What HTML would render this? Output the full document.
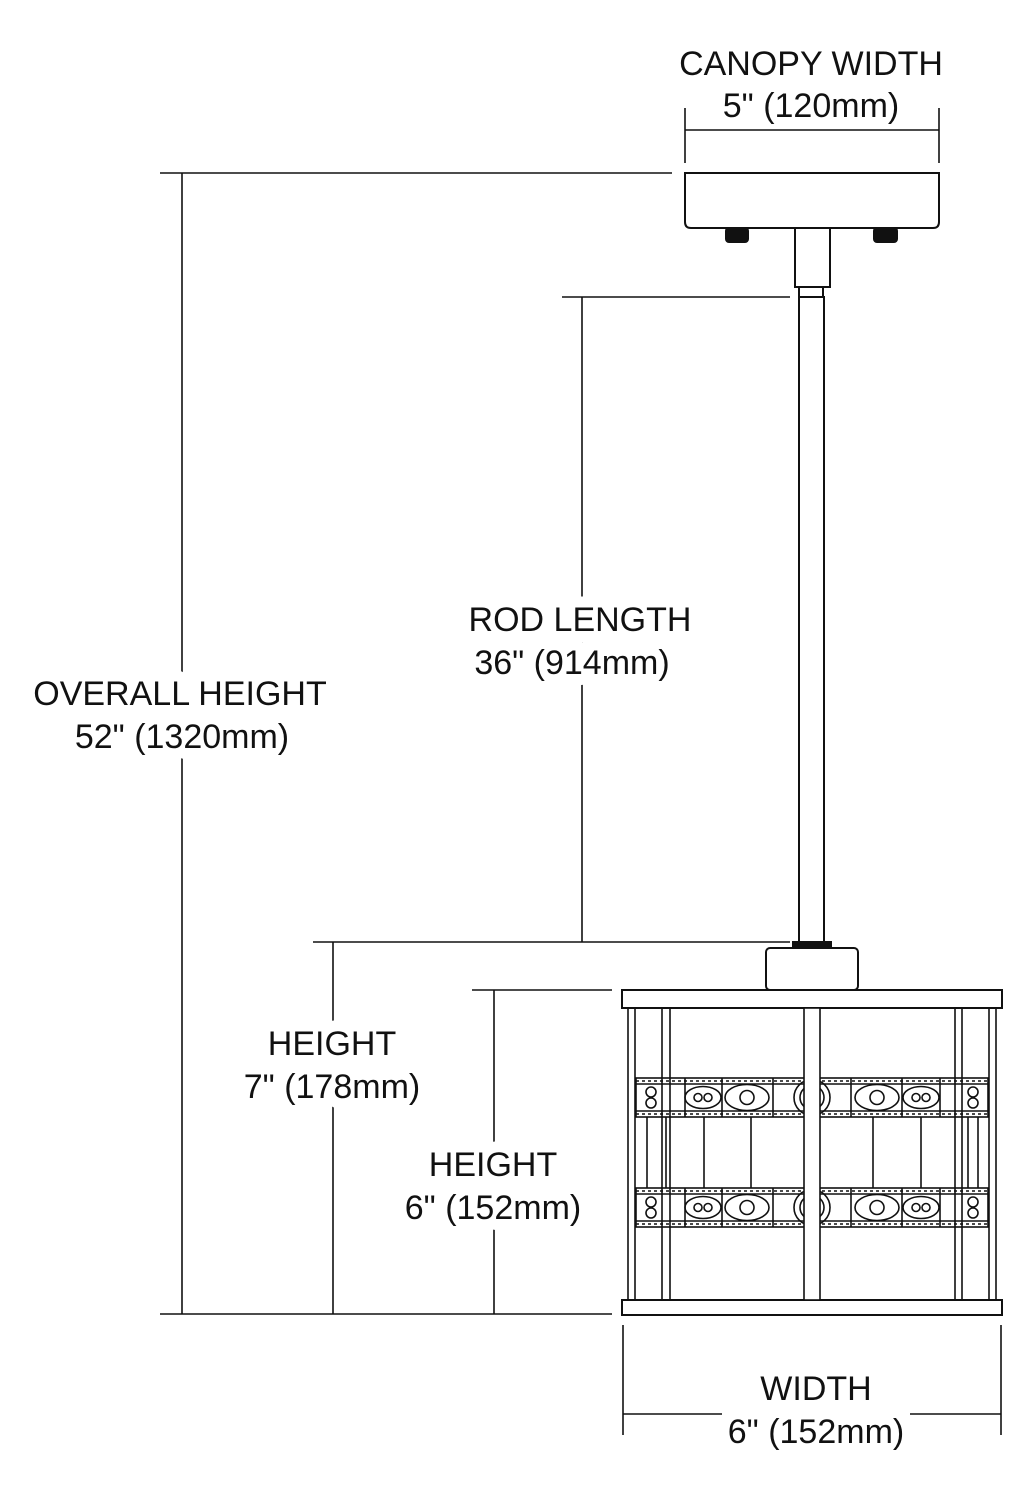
<!DOCTYPE html>
<html><head><style>body{margin:0;background:#fff}svg{display:block}text{font-family:"Liberation Sans",Arial,sans-serif;font-size:34px;fill:#111;text-anchor:middle}.h{stroke:#fff;stroke-width:22px;paint-order:stroke;stroke-linejoin:round}</style></head><body>
<svg width="1033" height="1500" viewBox="0 0 1033 1500" xmlns="http://www.w3.org/2000/svg">
<defs>
<g id="band" fill="none" stroke="#111" stroke-width="1.6">
<rect x="636" y="0" width="352" height="39"/>
<line x1="636" y1="6" x2="988" y2="6"/><line x1="636" y1="33" x2="988" y2="33"/>
<g stroke-dasharray="3 3"><line x1="636" y1="3" x2="988" y2="3"/><line x1="636" y1="36" x2="988" y2="36"/></g>
<line x1="685" y1="0" x2="685" y2="39"/><line x1="722" y1="0" x2="722" y2="39"/><line x1="773" y1="0" x2="773" y2="39"/>
<line x1="851" y1="0" x2="851" y2="39"/><line x1="902" y1="0" x2="902" y2="39"/><line x1="940" y1="0" x2="940" y2="39"/>
<circle cx="651" cy="14" r="5"/><circle cx="651" cy="25" r="5"/><circle cx="973" cy="14" r="5"/><circle cx="973" cy="25" r="5"/>
<ellipse cx="703" cy="19.5" rx="18" ry="11"/><ellipse cx="921" cy="19.5" rx="18" ry="11"/>
<circle cx="698" cy="19.5" r="4"/><circle cx="708" cy="19.5" r="4"/><circle cx="916" cy="19.5" r="4"/><circle cx="926" cy="19.5" r="4"/>
<ellipse cx="747" cy="19.5" rx="22" ry="13"/><circle cx="747" cy="19.5" r="7"/>
<ellipse cx="877" cy="19.5" rx="22" ry="13"/><circle cx="877" cy="19.5" r="7"/>
<circle cx="812" cy="19.5" r="18"/><circle cx="812" cy="19.5" r="12"/><circle cx="812" cy="19.5" r="6"/>
</g>
</defs>
<g stroke="#111" stroke-width="1.6" fill="none">
<line x1="160" y1="173" x2="672" y2="173"/>
<line x1="182" y1="173" x2="182" y2="1314"/>
<line x1="160" y1="1314" x2="612" y2="1314"/>
<line x1="562" y1="297" x2="790" y2="297"/>
<line x1="582" y1="297" x2="582" y2="942"/>
<line x1="313" y1="942" x2="790" y2="942"/>
<line x1="333" y1="942" x2="333" y2="1314"/>
<line x1="472" y1="990" x2="612" y2="990"/>
<line x1="494" y1="990" x2="494" y2="1314"/>
<line x1="623" y1="1325" x2="623" y2="1435"/>
<line x1="1001" y1="1325" x2="1001" y2="1435"/>
<line x1="623" y1="1414" x2="722" y2="1414"/><line x1="910" y1="1414" x2="1001" y2="1414"/>
<line x1="685" y1="108" x2="685" y2="163"/><line x1="939" y1="108" x2="939" y2="163"/>
<line x1="685" y1="130" x2="939" y2="130"/>
</g>
<g stroke="#111" stroke-width="2" fill="#fff">
<path d="M685 173 H939 V222 Q939 228 933 228 H691 Q685 228 685 222 Z"/>
<rect x="795" y="228" width="35" height="59"/>
<rect x="799" y="287" width="24" height="10"/>
<rect x="799" y="297" width="25" height="645"/>
<rect x="726" y="228" width="22" height="14" fill="#111" rx="3"/>
<rect x="874" y="228" width="23" height="14" fill="#111" rx="3"/>
<rect x="793" y="942" width="38" height="6" fill="#111"/>
<rect x="766" y="948" width="92" height="42" rx="4"/>
<rect x="622" y="990" width="380" height="18"/>
<rect x="622" y="1300" width="380" height="15"/>
</g>
<g stroke="#111" stroke-width="1.6" fill="none">
<rect x="628" y="1008" width="7" height="292"/><rect x="662" y="1008" width="8" height="292"/>
<rect x="955" y="1008" width="7" height="292"/><rect x="989" y="1008" width="7" height="292"/>
<line x1="647" y1="1117" x2="647" y2="1188"/><line x1="666" y1="1117" x2="666" y2="1188"/>
<line x1="704" y1="1117" x2="704" y2="1188"/><line x1="751" y1="1117" x2="751" y2="1188"/>
<line x1="873" y1="1117" x2="873" y2="1188"/><line x1="921" y1="1117" x2="921" y2="1188"/>
<line x1="968" y1="1117" x2="968" y2="1188"/><line x1="978" y1="1117" x2="978" y2="1188"/>
</g>
<use href="#band" transform="translate(0,1078)"/>
<use href="#band" transform="translate(0,1188)"/>
<rect x="804" y="1008" width="16" height="292" fill="#fff" stroke="#111" stroke-width="1.6"/>
<text x="811" y="75">CANOPY WIDTH</text>
<text x="811" y="117">5" (120mm)</text>
<text x="816" y="1400">WIDTH</text>
<text x="816" y="1443">6" (152mm)</text>
<g class="h">
<text x="580" y="631">ROD LENGTH</text>
<text x="572" y="674">36" (914mm)</text>
<text x="180" y="705">OVERALL HEIGHT</text>
<text x="182" y="748">52" (1320mm)</text>
<text x="332" y="1055">HEIGHT</text>
<text x="332" y="1098">7" (178mm)</text>
<text x="493" y="1176">HEIGHT</text>
<text x="493" y="1219">6" (152mm)</text>
</g>
</svg>
</body></html>
